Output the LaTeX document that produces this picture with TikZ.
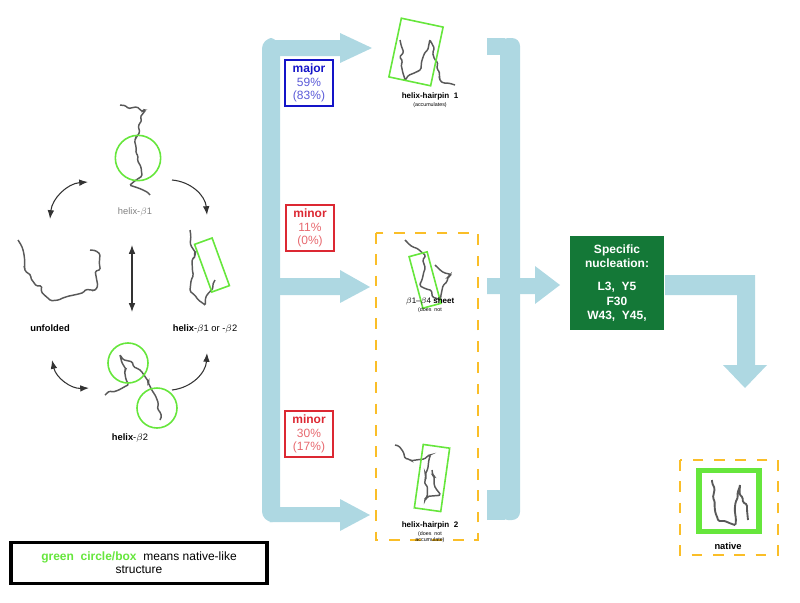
\documentclass[tikz,border=0pt]{standalone}
\usepackage{fontspec}
\setmainfont{Liberation Sans}
\usetikzlibrary{arrows.meta,decorations.pathmorphing}
\definecolor{flowblue}{RGB}{174,216,226}
\definecolor{natgreen}{RGB}{102,230,60}
\definecolor{nucgreen}{RGB}{20,120,55}
\definecolor{dashorange}{RGB}{250,190,40}
\definecolor{majblue}{RGB}{20,20,200}
\definecolor{minred}{RGB}{220,40,50}
\begin{document}
\begin{tikzpicture}[x=0.75pt,y=-0.75pt,
	lbl/.style={
		font=\fontsize{6}{7}\selectfont,
		align=center,
	},
	pct/.style={
		draw, 
		line width=1.3pt,
		align=center,
		font=\fontsize{9}{10}\selectfont,
		inner sep=2pt,
		minimum width=36pt,
		minimum height=35pt,
	},
	chain/.style={% molecule backbones
		draw=gray!70!black,
		line width=1.1pt,
		decorate,
		decoration={random steps,segment length=4pt,amplitude=2pt},
		rounded corners=1pt,
	},
	flow/.style={
		draw=none,
		fill=flowblue,
	},
	ArrowC1/.style={% cycle arrows
		-Latex,
		thick,
		black!80,
	},
]
\useasboundingbox (0,0) rectangle (800,603);

% left cycle
\draw[chain] (120,105) -- (145,110) -- (135,140) -- (142,175) -- (130,185) -- (150,195);
\node[circle, draw=natgreen, line width=1.2pt, minimum size=34pt, inner sep=0] (c1) at (138,158) {};
\node[lbl, font=\fontsize{7}{8}\selectfont, text=gray] (hb1) at (135,212) {helix-$\beta$1};

\draw[chain] (18,240) -- (25,270) -- (50,300) -- (95,290) -- (100,255) -- (90,250);
\node[lbl, font=\bfseries\fontsize{7}{8}\selectfont] (unf) at (50,328) {unfolded};

\draw[chain] (190,230) -- (195,255) -- (190,290) -- (205,305) -- (215,280);
\node[draw=natgreen, line width=1.2pt, minimum width=14pt, minimum height=38pt, rotate=20] (r1) at (212,265) {};
\node[lbl, font=\fontsize{7}{8}\selectfont] (hb12) at (205,329) {\textbf{helix}-$\beta$1 or -$\beta$2};

\draw[chain] (105,395) -- (128,385) -- (120,355) -- (140,370) -- (155,395) -- (160,420);
\node[circle, draw=natgreen, line width=1.2pt, minimum size=30pt, inner sep=0] (c2) at (128,363) {};
\node[circle, draw=natgreen, line width=1.2pt, minimum size=30pt, inner sep=0] (c3) at (157,408) {};
\node[lbl, font=\fontsize{7}{8}\selectfont] (hb2) at (130,438) {\textbf{helix}-$\beta$2};

\draw[ArrowC1, Latex-Latex] (50,219) to[bend left=40] (88,182);
\draw[ArrowC1] (172,180) to[bend left=40] (207,215);
\draw[ArrowC1, Latex-Latex] (132,245) -- (132,312);
\draw[ArrowC1, Latex-Latex] (52,360) to[bend right=40] (89,388);
\draw[ArrowC1] (172,390) to[bend right=40] (207,353);

% branching flow
\fill[flow, rounded corners=8pt] (262,38) rectangle (280,522);
\fill[flow] (270,40) -- (340,40) -- (340,33) -- (372,48) -- (340,63) -- (340,56) -- (270,56) -- cycle;
\fill[flow] (270,278) -- (340,278) -- (340,270) -- (370,287) -- (340,303) -- (340,295) -- (270,295) -- cycle;
\fill[flow] (270,507) -- (340,507) -- (340,499) -- (370,515) -- (340,531) -- (340,522) -- (270,522) -- cycle;
\fill[flow, rounded corners=6pt] (500,38) rectangle (520,520);
\fill[flow] (487,38) rectangle (505,55);
\fill[flow] (487,490) rectangle (505,520);
\fill[flow] (487,278) -- (535,278) -- (535,266) -- (560,285) -- (535,304) -- (535,294) -- (487,294) -- cycle;
\fill[flow] (665,275) -- (755,275) -- (755,365) -- (767,365) -- (745,388) -- (723,365) -- (737,365) -- (737,295) -- (665,295) -- cycle;

\node[pct, draw=majblue] (maj) at (309,83) {\textcolor{majblue}{\textbf{major}}\\\textcolor{majblue!70}{59\%}\\\textcolor{majblue!70}{(83\%)}};
\node[pct, draw=minred] (min1) at (310,228) {\textcolor{minred}{\textbf{minor}}\\\textcolor{minred!70}{11\%}\\\textcolor{minred!70}{(0\%)}};
\node[pct, draw=minred] (min2) at (309,434) {\textcolor{minred}{\textbf{minor}}\\\textcolor{minred!70}{30\%}\\\textcolor{minred!70}{(17\%)}};

% intermediates
\draw[chain] (400,40) -- (405,80) -- (420,70) -- (430,40) -- (440,80) -- (455,85);
\node[draw=natgreen, line width=1.2pt, minimum width=32pt, minimum height=45pt, rotate=-12] (hp1) at (416,52) {};
\node[lbl] (hp1t) at (430,100) {\textbf{helix-hairpin \ 1}\\[-1pt]{\fontsize{4}{5}\selectfont (accumulates)}};

\draw[dashorange, line width=1.5pt, dash pattern=on 8pt off 8pt] (376,233) rectangle (478,540);
\draw[chain] (405,240) -- (425,255) -- (420,285) -- (440,300) -- (450,275) -- (435,265);
\node[draw=natgreen, line width=1.2pt, minimum width=14pt, minimum height=40pt, rotate=15] (sh) at (425,280) {};
\node[lbl] (sht) at (430,305) {$\beta$1--$\beta$4 \textbf{sheet}\\[-1pt]{\fontsize{4}{5}\selectfont (does \ not}};

\draw[chain] (395,445) -- (410,460) -- (430,455) -- (425,500) -- (440,495) -- (432,470);
\node[draw=natgreen, line width=1.2pt, minimum width=20pt, minimum height=48pt, rotate=-8] (hp2) at (432,478) {};
\node[lbl] (hp2t) at (430,532) {\textbf{helix-hairpin \ 2}\\[-1pt]{\fontsize{4}{5}\selectfont (does \ not}\\[-2pt]{\fontsize{4}{5}\selectfont accumulate)}};

% nucleation and native
\node[fill=nucgreen, text=white, minimum width=71pt, minimum height=70pt, align=center, font=\bfseries\fontsize{9}{11}\selectfont] (nuc) at (617,283) {Specific\\nucleation:\\[6pt]L3, \ Y5\\F30\\W43, \ Y45,};

\draw[dashorange, line width=1.5pt, dash pattern=on 8pt off 8pt] (680,460) rectangle (778,555);
\node[draw=natgreen, line width=4pt, minimum width=45pt, minimum height=46pt] (nat) at (729,501) {};
\draw[chain, line width=1.4pt] (712,480) -- (718,520) -- (735,525) -- (740,485) -- (748,520);
\node[font=\bfseries\fontsize{7}{8}\selectfont] (natt) at (728,546) {native};

% legend
\node[draw, line width=2.5pt, minimum width=192pt, minimum height=31pt, align=center, font=\fontsize{9}{10}\selectfont] (leg) at (139,563) {\textcolor{natgreen}{\textbf{green \ circle/box}} \ means native-like\\structure};
\end{tikzpicture}
\end{document}
